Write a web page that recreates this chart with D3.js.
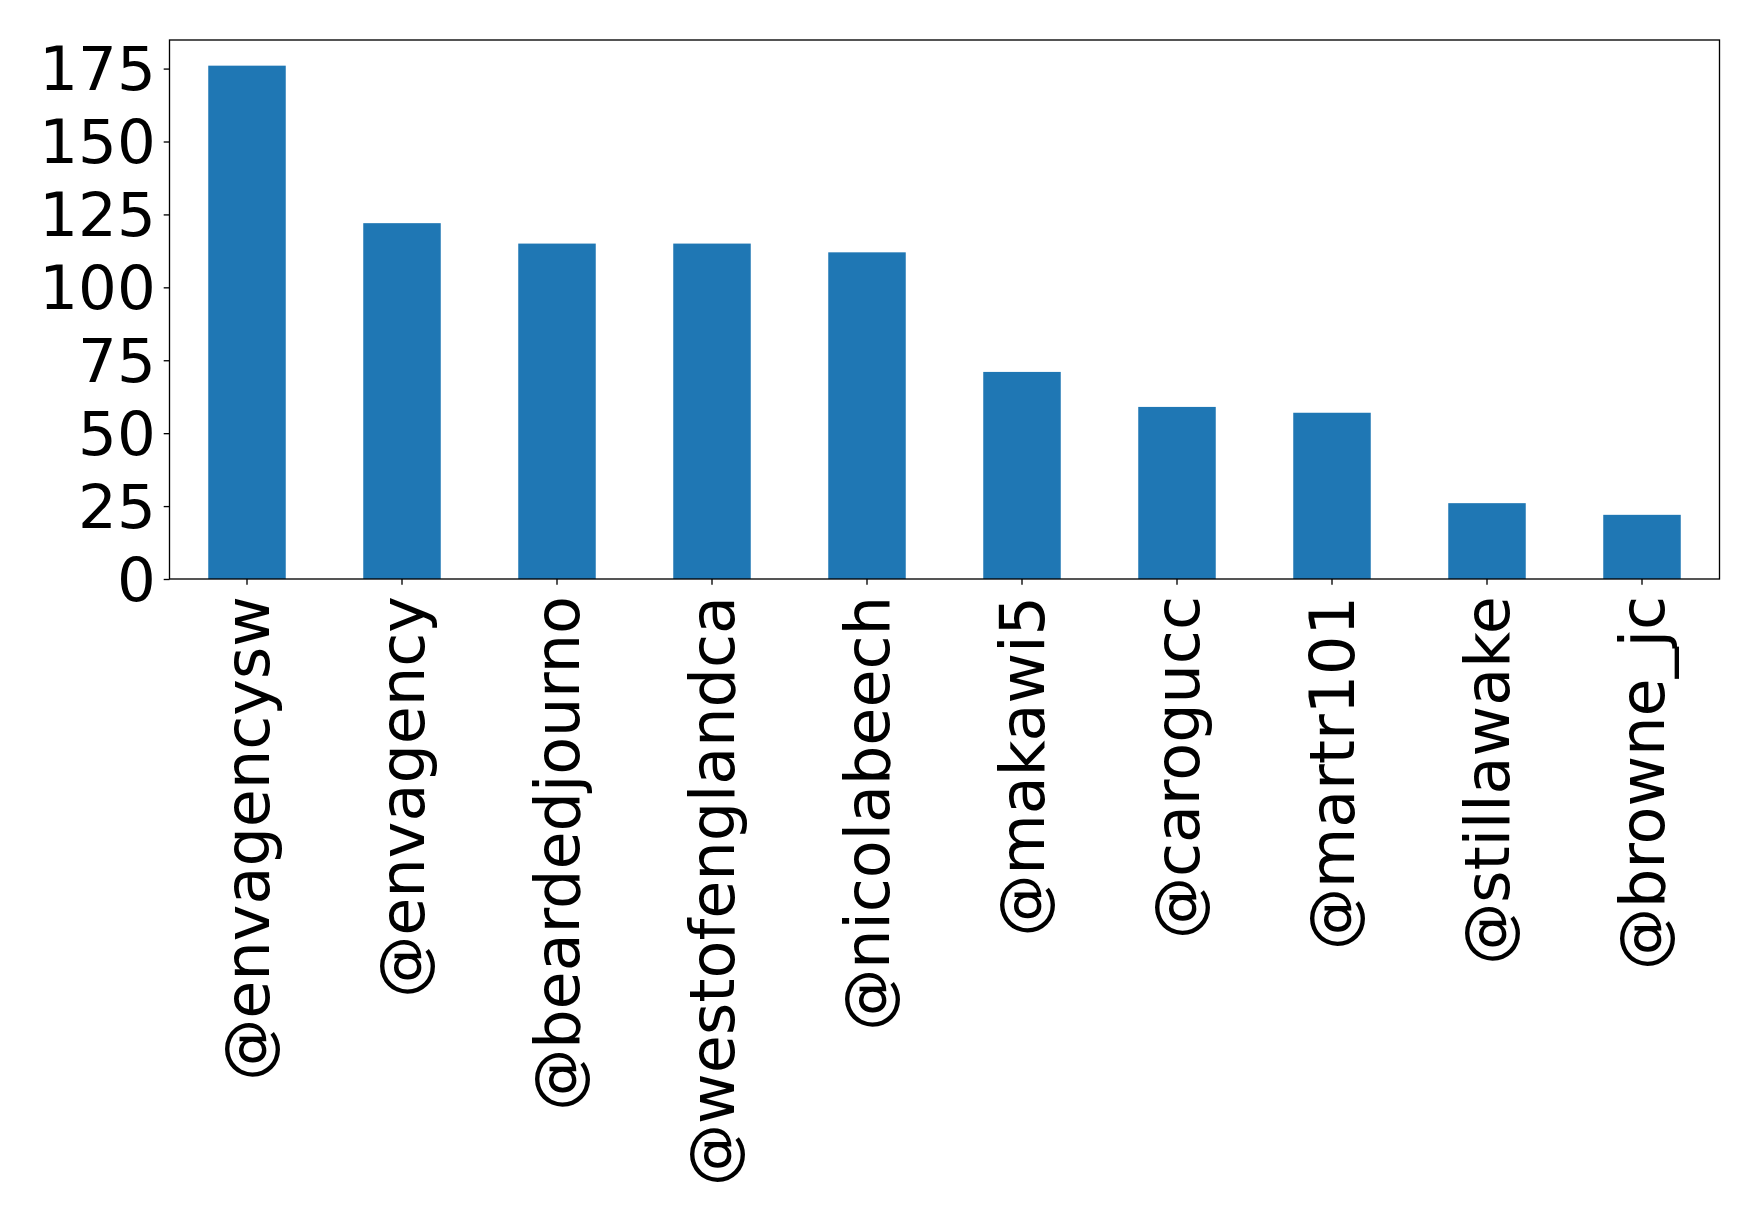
<!DOCTYPE html>
<html>
<head>
<meta charset="utf-8">
<script src="https://cdn.jsdelivr.net/npm/d3@7"></script>
<style>
  html, body { margin: 0; padding: 0; background: #fff; }
  svg { display: block; }
  text { font-family: "DejaVu Sans", sans-serif; fill: #000; }
</style>
</head>
<body>
<svg id="chart" width="1758" height="1223"></svg>
<script>
const categories = ["@envagencysw", "@envagency", "@beardedjourno", "@westofenglandca", "@nicolabeech", "@makawi5", "@carogucc", "@martr101", "@stillawake", "@browne_jc"];
const values = [176, 122, 115, 115, 112, 71, 59, 57, 26, 22];
const yTicks = [0, 25, 50, 75, 100, 125, 150, 175];

const W = 1758, H = 1223;
const margin = { left: 169.5, right: 38.5, top: 40, bottom: 644 };
const iw = W - margin.left - margin.right;
const ih = H - margin.top - margin.bottom;

const svg = d3.select("#chart");
const g = svg.append("g").attr("transform", `translate(${margin.left},${margin.top})`);

const x = d3.scaleBand().domain(categories).range([0, iw]).paddingInner(0.5).paddingOuter(0.25);
const y = d3.scaleLinear().domain([0, d3.max(values) * 1.05]).range([ih, 0]);

g.selectAll("rect.bar").data(values).enter().append("rect")
  .attr("class", "bar")
  .attr("x", (d, i) => x(categories[i]))
  .attr("y", d => y(d))
  .attr("width", x.bandwidth())
  .attr("height", d => ih - y(d))
  .attr("fill", "#1f77b4");

const tickLen = 5.8;

// y axis
const yAxis = g.append("g").call(d3.axisLeft(y).tickValues(yTicks).tickSize(tickLen).tickPadding(8));
yAxis.select(".domain").remove();
yAxis.selectAll(".tick line").attr("stroke", "#000").attr("stroke-width", 1.33);
yAxis.selectAll(".tick text").attr("font-size", 61).attr("font-family", "DejaVu Sans").attr("dy", "0.35em");

// x axis
const xAxis = g.append("g").attr("transform", `translate(0,${ih})`)
  .call(d3.axisBottom(x).tickSize(tickLen).tickPadding(0));
xAxis.select(".domain").remove();
xAxis.selectAll(".tick line").attr("stroke", "#000").attr("stroke-width", 1.33);
xAxis.selectAll(".tick text")
  .attr("font-size", 62)
  .attr("font-family", "DejaVu Sans")
  .attr("text-anchor", "end")
  .attr("x", 0).attr("y", 0)
  .attr("dy", "0.35em")
  .attr("transform", "translate(0,17) rotate(-90)");

// frame
g.append("rect").attr("x", 0).attr("y", 0).attr("width", iw).attr("height", ih)
  .attr("fill", "none").attr("stroke", "#000").attr("stroke-width", 1.33);
</script>
</body>
</html>
